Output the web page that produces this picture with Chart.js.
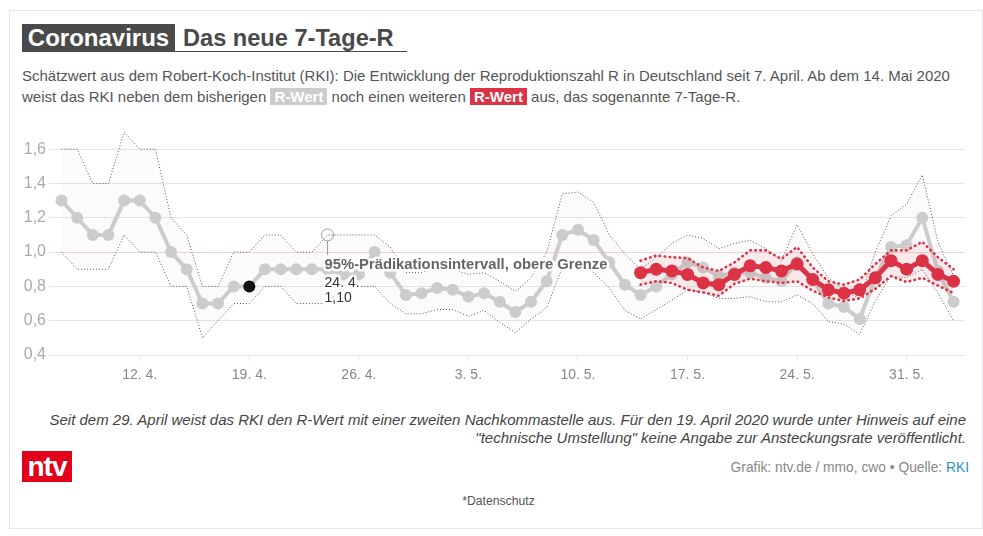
<!DOCTYPE html>
<html lang="de">
<head>
<meta charset="utf-8">
<title>Das neue 7-Tage-R</title>
<script src="https://cdn.jsdelivr.net/npm/chart.js@4"></script>
<style>
  html, body { margin: 0; padding: 0; background: #fff; overflow: hidden; }
  body { width: 983px; height: 536px; position: relative; font-family: "Liberation Sans", Arial, sans-serif; }
  #frame { position: absolute; left: 9px; top: 10px; width: 972px; height: 517px; border: 1px solid #e4e8ec; }
  .abs { position: absolute; white-space: nowrap; }
  #kicker { left: 22px; top: 24px; width: 153px; height: 28px; background: #4a4a4a; color: #fff; font-weight: bold; font-size: 24px; line-height: 28px; text-align: center; }
  #headline { left: 183px; top: 24px; color: #4a4a4a; font-weight: bold; font-size: 23.6px; line-height: 28px; }
  #rule { left: 175px; top: 51px; width: 232px; height: 1px; background: #4a4a4a; }
  .sub { left: 22px; color: #555; font-size: 15px; line-height: 20px; }
  .badge { color: #fff; font-weight: bold; padding: 0 4px; }
  #note { right: 17px; top: 411px; text-align: right; font-style: italic; color: #444; font-size: 15px; line-height: 17.5px; }
  #logo { left: 22px; top: 451px; width: 50px; height: 31px; background: #e2001a; color: #fff; font-weight: bold; font-size: 28px; line-height: 31px; text-align: center; letter-spacing: -1px; }
  #source { right: 14px; top: 460px; color: #888; font-size: 13.8px; line-height: 16px; }
  #source span { color: #2b8fcb; }
  #privacy { left: 0; width: 997px; top: 494px; text-align: center; color: #555; font-size: 12.2px; line-height: 14px; }
  #chartBox { position: absolute; left: 0; top: 121px; width: 983px; height: 270px; }
</style>
</head>
<body>
<div id="frame"></div>
<div class="abs" id="kicker">Coronavirus</div>
<div class="abs" id="headline">Das neue 7-Tage-R</div>
<div class="abs" id="rule"></div>
<div class="abs sub" style="top:66px">Schätzwert aus dem Robert-Koch-Institut (RKI): Die Entwicklung der Reproduktionszahl R in Deutschland seit 7. April. Ab dem 14. Mai 2020</div>
<div class="abs sub" style="top:87px">weist das RKI neben dem bisherigen <span class="badge" style="background:#cccccc">R-Wert</span> noch einen weiteren <span class="badge" style="background:#dc3246">R-Wert</span> aus, das sogenannte 7-Tage-R.</div>
<div id="chartBox"><canvas id="chart"></canvas></div>
<div class="abs" id="note">Seit dem 29. April weist das RKI den R-Wert mit einer zweiten Nachkommastelle aus. Für den 19. April 2020 wurde unter Hinweis auf eine<br>"technische Umstellung" keine Angabe zur Ansteckungsrate veröffentlicht.</div>
<div class="abs" id="logo">ntv</div>
<div class="abs" id="source">Grafik: ntv.de / mmo, cwo • Quelle: <span>RKI</span></div>
<div class="abs" id="privacy">*Datenschutz</div>

<script>
// days since 7 April, the x axis is in these units
const tickDays = [5, 12, 19, 26, 33, 40, 47, 54];
const tickLabels = ['12. 4.', '19. 4.', '26. 4.', '3. 5.', '10. 5.', '17. 5.', '24. 5.', '31. 5.'];
const yTicks = [0.4, 0.6, 0.8, 1.0, 1.2, 1.4, 1.6];

// R-Wert, 7 April to 3 June
const rWert = [1.3, 1.2, 1.1, 1.1, 1.3, 1.3, 1.2, 1.0, 0.9, 0.7, 0.7, 0.8, 0.8, 0.9, 0.9, 0.9, 0.9, 0.9, 0.87, 0.87, 1.0, 0.88,
  0.75, 0.76, 0.79, 0.78, 0.74, 0.76, 0.71, 0.65, 0.71, 0.83, 1.10, 1.13, 1.07, 0.94, 0.81, 0.75, 0.80, 0.87, 0.94, 0.91, 0.86,
  0.88, 0.88, 0.85, 0.83, 0.94, 0.84, 0.70, 0.68, 0.61, 0.85, 1.03, 1.04, 1.20, 0.89, 0.71];
const rOben = [1.6, 1.6, 1.4, 1.4, 1.7, 1.6, 1.6, 1.2, 1.1, 0.8, 0.8, 1.0, 1.0, 1.1, 1.1, 1.0, 1.0, 1.1, 1.1, 1.1, 1.1, 1.03,
  0.88, 0.88, 0.91, 0.90, 0.87, 0.88, 0.83, 0.77, 0.85, 1.00, 1.34, 1.35, 1.29, 1.10, 0.99, 0.90, 0.97, 1.05, 1.10, 1.08, 1.02,
  1.05, 1.07, 1.02, 0.95, 1.16, 0.99, 0.85, 0.775, 0.73, 1.00, 1.21, 1.28, 1.45, 1.06, 0.86];
const rUnten = [1.0, 0.9, 0.9, 0.9, 1.1, 1.0, 1.0, 0.8, 0.8, 0.5, 0.6, 0.7, 0.7, 0.8, 0.8, 0.7, 0.7, 0.7, 0.8, 0.8, 0.8, 0.70,
  0.64, 0.64, 0.665, 0.665, 0.625, 0.66, 0.59, 0.53, 0.61, 0.675, 0.91, 0.95, 0.88, 0.79, 0.66, 0.61, 0.665, 0.72, 0.78, 0.765, 0.73,
  0.73, 0.74, 0.71, 0.71, 0.75, 0.70, 0.595, 0.58, 0.52, 0.715, 0.86, 0.85, 0.90, 0.76, 0.60];

// 7-Tage-R, starts 14 May (day 37)
const siebenStart = 37;
const siebenTage = [0.88, 0.90, 0.89, 0.87, 0.82, 0.81, 0.87, 0.92, 0.91, 0.89, 0.93, 0.84, 0.78, 0.76, 0.78, 0.85, 0.95, 0.90, 0.95, 0.87, 0.83];
const siebenOben = [0.95, 0.98, 0.97, 0.965, 0.91, 0.89, 0.94, 1.01, 1.01, 0.96, 1.03, 0.91, 0.83, 0.81, 0.84, 0.93, 1.01, 1.01, 1.06, 0.97, 0.90];
const siebenUnten = [0.81, 0.83, 0.82, 0.78, 0.765, 0.745, 0.815, 0.845, 0.83, 0.82, 0.83, 0.775, 0.735, 0.715, 0.73, 0.785, 0.86, 0.825, 0.85, 0.805, 0.76];

const blackDay = 12;   // 19 April
const hoverDay = 17;   // 24 April, upper limit
const hoverTitle = '95%-Prädikationsintervall, obere Grenze';
const hoverDate = '24. 4.';
const hoverValue = '1,10';

const toPoints = (arr, start) => arr.map((y, i) => ({ x: i + start, y: y }));

const boundLine = (label, arr, start, color, width, dash, cap, order, fill) => ({
  label: label,
  data: toPoints(arr, start),
  borderColor: color,
  borderWidth: width,
  borderDash: dash,
  borderCapStyle: cap,
  pointRadius: 0,
  tension: 0,
  fill: fill,
  clip: false,
  order: order
});

// white halo label and pointer for the highlighted point
const hoverLabel = {
  id: 'hoverLabel',
  afterDatasetsDraw(chart) {
    const ctx = chart.ctx;
    const px = chart.scales.x.getPixelForValue(hoverDay);
    const py = chart.scales.y.getPixelForValue(rOben[hoverDay]);
    ctx.save();
    ctx.strokeStyle = '#999';
    ctx.lineWidth = 1;
    ctx.beginPath();
    ctx.moveTo(px, py + 6);
    ctx.lineTo(px, py + 20);
    ctx.stroke();
    ctx.beginPath();
    ctx.arc(px, py, 6, 0, Math.PI * 2);
    ctx.stroke();
    ctx.lineJoin = 'round';
    ctx.textBaseline = 'alphabetic';
    ctx.textAlign = 'left';
    const rows = [
      [hoverTitle, 'bold 14.8px "Liberation Sans", Arial', '#666', py + 34],
      [hoverDate, '14px "Liberation Sans", Arial', '#333', py + 52],
      [hoverValue, '14px "Liberation Sans", Arial', '#333', py + 67]
    ];
    for (const [text, font, color, y] of rows) {
      ctx.font = font;
      ctx.strokeStyle = 'rgba(255,255,255,0.95)';
      ctx.lineWidth = 5;
      ctx.strokeText(text, px - 3, y);
      ctx.fillStyle = color;
      ctx.fillText(text, px - 3, y);
    }
    ctx.restore();
  }
};

new Chart(document.getElementById('chart'), {
  type: 'line',
  data: {
    datasets: [
      boundLine('R-Wert obere Grenze', rOben, 0, '#555', 1, [1, 2], 'butt', 6, { target: 1, above: 'rgba(120,120,120,0.03)', below: 'rgba(120,120,120,0.03)' }),
      boundLine('R-Wert untere Grenze', rUnten, 0, '#555', 1, [1, 2], 'butt', 6, false),
      {
        label: 'R-Wert',
        data: toPoints(rWert, 0),
        borderColor: '#cccccc',
        borderWidth: 4,
        backgroundColor: '#cccccc',
        pointRadius: 6,
        pointBorderWidth: 0,
        pointBackgroundColor: ctx => ctx.dataIndex === blackDay ? '#111111' : '#cccccc',
        tension: 0,
        fill: false,
        clip: false,
        order: 5
      },
      boundLine('7-Tage-R obere Grenze', siebenOben, siebenStart, '#dc3246', 2.6, [0.5, 4.5], 'round', 3, { target: 4, above: 'rgba(220,50,70,0.09)', below: 'rgba(220,50,70,0.09)' }),
      boundLine('7-Tage-R untere Grenze', siebenUnten, siebenStart, '#dc3246', 2.6, [0.5, 4.5], 'round', 3, false),
      {
        label: '7-Tage-R',
        data: toPoints(siebenTage, siebenStart),
        borderColor: '#dc3246',
        borderWidth: 5,
        backgroundColor: '#dc3246',
        pointRadius: 6.5,
        pointBorderWidth: 0,
        tension: 0,
        fill: false,
        clip: false,
        order: 1
      }
    ]
  },
  options: {
    responsive: true,
    maintainAspectRatio: false,
    animation: false,
    events: [],
    layout: { padding: { left: 0, right: 18, top: 11, bottom: 0 } },
    plugins: { legend: { display: false }, tooltip: { enabled: false } },
    scales: {
      x: {
        type: 'linear',
        min: -0.8,
        max: 57.73,
        afterBuildTicks: axis => { axis.ticks = tickDays.map(v => ({ value: v })); },
        afterFit: axis => { axis.height = 36; axis.paddingLeft = 0; axis.paddingRight = 0; },
        border: { display: false },
        grid: { drawOnChartArea: false, drawTicks: true, tickLength: 6, color: '#e6e6e6' },
        ticks: {
          autoSkip: false,
          maxRotation: 0,
          padding: 6,
          color: '#888',
          font: { family: '"Liberation Sans", Arial', size: 14 },
          callback: value => tickLabels[tickDays.indexOf(value)]
        }
      },
      y: {
        type: 'linear',
        min: 0.4,
        max: 1.7,
        afterBuildTicks: axis => { axis.ticks = yTicks.map(v => ({ value: v })); },
        afterFit: axis => { axis.width = 49; axis.paddingTop = 0; axis.paddingBottom = 0; },
        border: { display: false },
        grid: {
          drawTicks: false,
          lineWidth: 1,
          color: ctx => Math.abs(ctx.tick.value - 1) < 0.001 ? '#f6d3d8' : '#e6e6e6'
        },
        ticks: {
          padding: 3,
          color: '#aaa',
          font: { family: '"Liberation Sans", Arial', size: 16 },
          callback: value => value.toFixed(1).replace('.', ',')
        }
      }
    }
  },
  plugins: [hoverLabel]
});
</script>
</body>
</html>
